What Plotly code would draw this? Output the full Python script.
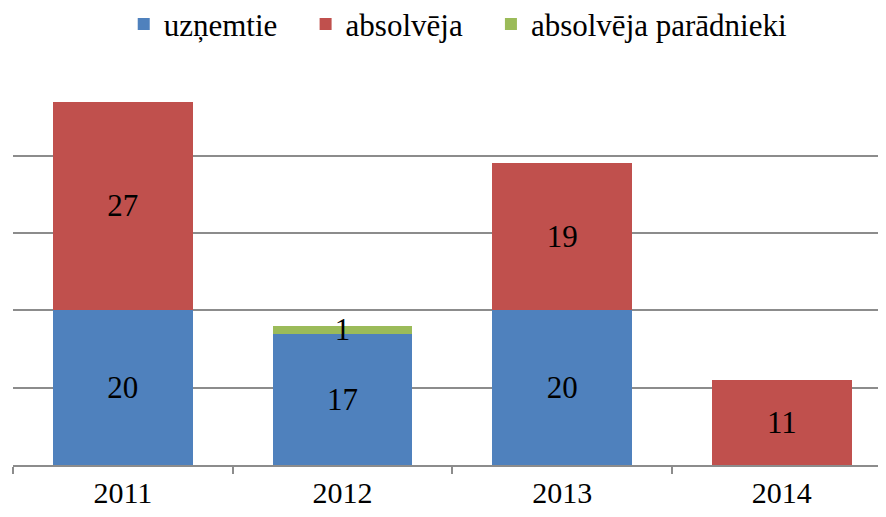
import plotly.graph_objects as go

categories = ["2011", "2012", "2013", "2014"]
uznemtie = [20, 17, 20, None]
absolveja = [27, None, 19, 11]
paradnieki = [None, 1, None, None]

series_names = ["uzņemtie", "absolvēja", "absolvēja parādnieki"]
series_values = [uznemtie, absolveja, paradnieki]
series_colors = ["#4F81BD", "#C0504D", "#9BBB59"]

FONT = "Liberation Serif, Times New Roman, serif"
PAD = "\u00a0" * 3
fig = go.Figure()
for i, (name, vals, color) in enumerate(zip(series_names, series_values, series_colors)):
    label = name + (PAD if i < len(series_names) - 1 else "")
    fig.add_trace(go.Bar(
        name=label, x=categories, y=vals,
        marker=dict(color=color, line=dict(width=0)),
        text=[str(v) if v is not None else "" for v in vals],
        textposition="inside", insidetextanchor="middle",
        textangle=0, constraintext="none",
        textfont=dict(family=FONT, size=31, color="black"),
        hoverinfo="skip",
    ))

# page body has an 8px margin, so the figure is drawn 8px smaller and offset
fig.update_layout(
    barmode="stack", bargap=0.363,
    width=878, height=509,
    margin=dict(l=5, r=0, t=70, b=52, autoexpand=False),
    paper_bgcolor="white", plot_bgcolor="white",
    font=dict(family=FONT, size=30, color="black"),
    showlegend=True,
    legend=dict(orientation="h", x=0.51, xanchor="center", y=0.968, yanchor="middle",
                yref="container", font=dict(family=FONT, size=31),
                traceorder="normal", itemwidth=30, tracegroupgap=0),
    xaxis=dict(type="category", range=[-0.5, 3.474], showline=True,
               linecolor="#8C8C8C", linewidth=2, ticks="outside",
               tickson="boundaries", ticklen=7, tickcolor="#8C8C8C", tickwidth=2,
               tickfont=dict(family=FONT, size=30), showgrid=False),
    yaxis=dict(range=[0, 50.05], tickvals=[10, 20, 30, 40, 50], showticklabels=False,
               showgrid=True, gridcolor="#8C8C8C", gridwidth=2, zeroline=False,
               showline=False),
)
fig.write_html("out.html")
